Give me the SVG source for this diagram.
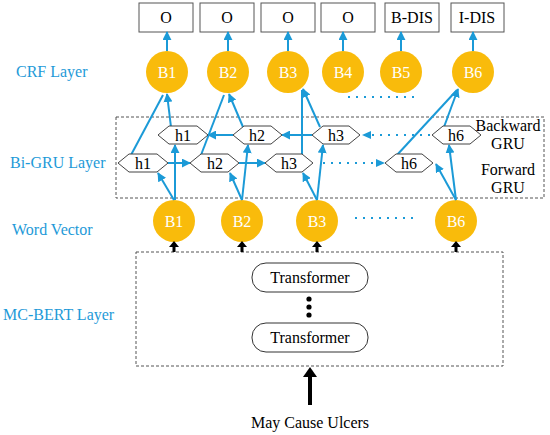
<svg xmlns="http://www.w3.org/2000/svg" width="550" height="435" viewBox="0 0 550 435">
<style>
text{font-family:"Liberation Serif","Times New Roman",serif}
.lbl{fill:#1e9ad8;font-size:16px}
.box{fill:#fff;stroke:#555;stroke-width:1}
.bt{fill:#000;font-size:16px;text-anchor:middle}
.node{fill:#f9bb0b}
.nt{fill:#fff;font-size:16px;text-anchor:middle}
.hex{fill:#fff;stroke:#444;stroke-width:1}
.ht{fill:#000;font-size:16px;text-anchor:middle}
.dash{fill:none;stroke:#555;stroke-width:1;stroke-dasharray:3 2}
.bl{stroke:#1b9ad7;stroke-width:2;fill:none}
.dot{stroke:#1b9ad7;stroke-width:2;fill:none;stroke-dasharray:2 6}
.arr{marker-end:url(#ah)}
.gt{fill:#000;font-size:16px;text-anchor:middle}
</style>
<defs>
<marker id="ah" viewBox="0 0 10 10" refX="9" refY="5" markerWidth="9" markerHeight="9" markerUnits="userSpaceOnUse" orient="auto">
<path d="M0,0 L10,5 L0,10 z" fill="#1b9ad7"/>
</marker>
</defs>
<rect width="550" height="435" fill="#fff"/>

<!-- left labels -->
<text class="lbl" x="16" y="77">CRF Layer</text>
<text class="lbl" x="10" y="168">Bi-GRU Layer</text>
<text class="lbl" x="12" y="235">Word Vector</text>
<text class="lbl" x="3" y="320">MC-BERT Layer</text>

<!-- containers -->
<rect class="dash" x="116" y="117" width="428" height="81"/>
<rect class="dash" x="136" y="252" width="367" height="114"/>
<text class="gt" x="508" y="131">Backward</text>
<text class="gt" x="508" y="149">GRU</text>
<text class="gt" x="508" y="175">Forward</text>
<text class="gt" x="508" y="193">GRU</text>

<!-- output tag boxes -->
<g id="tag1"><rect class="box" x="139" y="3" width="54" height="29"/><text class="bt" x="166" y="23">O</text></g>
<g id="tag2"><rect class="box" x="200" y="3" width="54" height="29"/><text class="bt" x="227" y="23">O</text></g>
<g id="tag3"><rect class="box" x="261" y="3" width="54" height="29"/><text class="bt" x="288" y="23">O</text></g>
<g id="tag4"><rect class="box" x="321" y="3" width="54" height="29"/><text class="bt" x="348" y="23">O</text></g>
<g id="tag5"><rect class="box" x="385" y="3" width="54" height="29"/><text class="bt" x="412" y="23">B-DIS</text></g>
<g id="tag6"><rect class="box" x="451" y="3" width="53" height="29"/><text class="bt" x="477" y="23">I-DIS</text></g>

<!-- CRF nodes -->
<g id="crf1"><circle class="node" cx="167" cy="72" r="21"/><text class="nt" x="167" y="78">B1</text></g>
<g id="crf2"><circle class="node" cx="228" cy="72" r="21"/><text class="nt" x="228" y="78">B2</text></g>
<g id="crf3"><circle class="node" cx="288" cy="72" r="21"/><text class="nt" x="288" y="78">B3</text></g>
<g id="crf4"><circle class="node" cx="343" cy="72" r="21"/><text class="nt" x="343" y="78">B4</text></g>
<g id="crf5"><circle class="node" cx="401" cy="72" r="21"/><text class="nt" x="401" y="78">B5</text></g>
<g id="crf6"><circle class="node" cx="473" cy="72" r="21"/><text class="nt" x="473" y="78">B6</text></g>

<!-- word vectors -->
<g id="wv1"><circle class="node" cx="174" cy="221" r="21"/><text class="nt" x="174" y="227">B1</text></g>
<g id="wv2"><circle class="node" cx="242" cy="221" r="21"/><text class="nt" x="242" y="227">B2</text></g>
<g id="wv3"><circle class="node" cx="317" cy="221" r="21"/><text class="nt" x="317" y="227">B3</text></g>
<g id="wv6"><circle class="node" cx="456" cy="221" r="21"/><text class="nt" x="456" y="227">B6</text></g>

<!-- transformers -->
<g id="trans1"><rect x="252" y="263" width="116" height="29" rx="14" fill="#fff" stroke="#333" stroke-width="1"/><text class="gt" x="310" y="283">Transformer</text></g>
<g id="trans2"><rect x="252" y="323" width="116" height="29" rx="14" fill="#fff" stroke="#333" stroke-width="1"/><text class="gt" x="310" y="343">Transformer</text></g>
<g id="vdots" fill="#000"><circle cx="309" cy="299" r="2.6"/><circle cx="309" cy="307" r="2.6"/><circle cx="309" cy="315" r="2.6"/></g>

<!-- input -->
<g id="input"><text class="gt" x="310" y="428">May Cause Ulcers</text></g>

<!-- connectors -->
<g id="connectors">
<!-- CRF to tags -->
<line class="bl arr" x1="167" y1="51" x2="167" y2="32"/>
<line class="bl arr" x1="228" y1="51" x2="228" y2="32"/>
<line class="bl arr" x1="288" y1="51" x2="288" y2="32"/>
<line class="bl arr" x1="343" y1="51" x2="343" y2="32"/>
<line class="bl arr" x1="401" y1="51" x2="401" y2="32"/>
<line class="bl arr" x1="473" y1="51" x2="473" y2="32"/>

<!-- word to forward/backward -->
<line class="bl arr" x1="174" y1="200" x2="158" y2="173"/>
<line class="bl arr" x1="175" y1="200" x2="175" y2="145"/>
<line class="bl arr" x1="242" y1="200" x2="230" y2="173"/>
<line class="bl arr" x1="242" y1="200" x2="248" y2="145"/>
<line class="bl arr" x1="317" y1="200" x2="303" y2="173"/>
<line class="bl arr" x1="317" y1="200" x2="323" y2="145"/>
<line class="bl arr" x1="456" y1="200" x2="436" y2="164"/>
<line class="bl arr" x1="456" y1="200" x2="449" y2="145"/>

<!-- forward chain -->
<line class="bl arr" x1="168" y1="163" x2="190" y2="163"/>
<line class="bl arr" x1="239" y1="163" x2="265" y2="163"/>
<line class="dot" x1="323" y1="163" x2="378" y2="163"/>
<path d="M376,159 L385,163 L376,167 z" fill="#1b9ad7"/>

<!-- backward chain -->
<line class="bl arr" x1="233" y1="135" x2="208" y2="135"/>
<line class="bl arr" x1="312" y1="135" x2="282" y2="135"/>
<line class="dot" x1="430" y1="135" x2="370" y2="135"/>
<path d="M371,131 L362,135 L371,139 z" fill="#1b9ad7"/>

<!-- hidden to CRF -->
<line class="bl" x1="131" y1="155" x2="163" y2="95"/>
<line class="bl arr" x1="171" y1="127" x2="167" y2="94"/>
<line class="bl" x1="201" y1="155" x2="224" y2="95"/>
<line class="bl arr" x1="243" y1="127" x2="229" y2="94"/>
<line class="bl" x1="302" y1="155" x2="302" y2="90"/>
<line class="bl arr" x1="320" y1="127" x2="303" y2="89"/>
<line class="bl" x1="397" y1="155" x2="457" y2="90"/>
<line class="bl arr" x1="444" y1="127" x2="458" y2="89"/>

<!-- dotted ellipses between nodes -->
<line class="dot" x1="348" y1="97" x2="415" y2="97"/>
<line class="dot" x1="355" y1="218" x2="415" y2="218"/>

<!-- BERT to word vectors -->
<g fill="#000" stroke="none">
<rect x="172.5" y="245" width="3" height="7"/><path d="M169,247 L174,241 L179,247 z"/>
<rect x="240.5" y="245" width="3" height="7"/><path d="M237,247 L242,241 L247,247 z"/>
<rect x="315.5" y="245" width="3" height="7"/><path d="M312,247 L317,241 L322,247 z"/>
<rect x="454.5" y="245" width="3" height="7"/><path d="M451,247 L456,241 L461,247 z"/>
<rect x="308" y="375" width="4" height="30"/><path d="M303,377 L310,367 L317,377 z"/>
</g>
</g>

<!-- hidden nodes (backward row) -->
<g id="hb1"><polygon class="hex" points="158,135 169,126 197,126 208,135 197,144 169,144"/><text class="ht" x="183" y="141">h1</text></g>
<g id="hb2"><polygon class="hex" points="233,135 244,126 271,126 282,135 271,144 244,144"/><text class="ht" x="257" y="141">h2</text></g>
<g id="hb3"><polygon class="hex" points="312,135 323,126 349,126 360,135 349,144 323,144"/><text class="ht" x="336" y="141">h3</text></g>
<g id="hb6"><polygon class="hex" points="432,135 443,126 470,126 481,135 470,144 443,144"/><text class="ht" x="456" y="141">h6</text></g>
<!-- hidden nodes (forward row) -->
<g id="hf1"><polygon class="hex" points="118,163 129,154 157,154 168,163 157,172 129,172"/><text class="ht" x="143" y="169">h1</text></g>
<g id="hf2"><polygon class="hex" points="190,163 201,154 228,154 239,163 228,172 201,172"/><text class="ht" x="215" y="169">h2</text></g>
<g id="hf3"><polygon class="hex" points="265,163 276,154 302,154 313,163 302,172 276,172"/><text class="ht" x="289" y="169">h3</text></g>
<g id="hf6"><polygon class="hex" points="385,163 396,154 422,154 433,163 422,172 396,172"/><text class="ht" x="409" y="169">h6</text></g>
</svg>
